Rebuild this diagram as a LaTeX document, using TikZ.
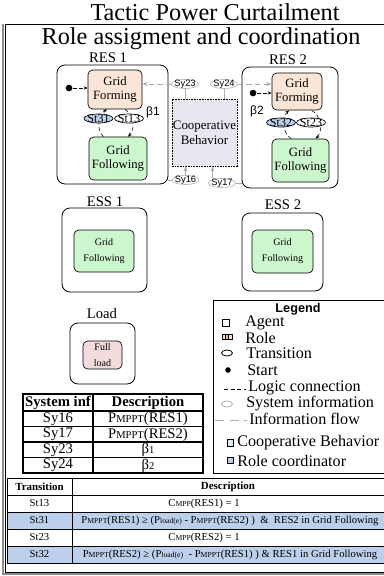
\documentclass[tikz,border=0pt]{standalone}
\usepackage{fontspec}
\usepackage{graphicx}
\setmainfont{Liberation Serif}
\setsansfont{Liberation Sans}
\usetikzlibrary{shapes.geometric,arrows.meta}

\definecolor{formfill}{HTML}{FBE5D6}
\definecolor{followfill}{HTML}{CCF7CC}
\definecolor{loadfill}{HTML}{F2DCDB}
\definecolor{coopfill}{HTML}{E8E6F0}
\definecolor{coordfill}{HTML}{BCD0EC}
\definecolor{coopleg}{HTML}{DDE6F4}
\definecolor{infogray}{HTML}{ABABAB}

\newcommand{\smcap}[1]{\scalebox{0.72}{#1}}

\begin{document}
\begin{tikzpicture}[x=0.75pt,y=0.75pt,
    headline/.style={font=\fontsize{18.2}{18.2}\selectfont,inner sep=0pt},
    agent/.style={draw,rounded corners=6pt,line width=0.6pt},
    lbl/.style={font=\fontsize{11}{11}\selectfont,inner sep=0pt},
    role/.style={draw,rounded corners=3.5pt,line width=0.5pt,align=center,inner sep=0pt,
      font=\fontsize{9.5}{11}\selectfont},
    trans/.style={draw,ellipse,line width=0.5pt,inner sep=0pt,minimum width=21.75pt,minimum height=6.75pt,
      label={[font=\fontsize{9}{9}\selectfont,inner sep=0pt]center:#1}},
    sysinf/.style={draw=infogray,ellipse,fill=white,inner sep=0pt,minimum width=20.25pt,minimum height=6.75pt,
      label={[font=\sffamily\fontsize{7}{7}\selectfont,inner sep=0pt]center:#1}},
    logic/.style={densely dashed,line width=0.4pt,-{Stealth[length=3pt,width=2.5pt]}},
    infoflow/.style={infogray,dash pattern=on 4pt off 2.5pt,line width=0.6pt,-{Stealth[length=4pt,width=3pt]}},
    infoline/.style={infogray,line width=0.6pt},
    startdot/.style={circle,fill,inner sep=0pt,minimum size=5pt},
    beta/.style={font=\sffamily\fontsize{9}{9}\selectfont,inner sep=0pt},
    cell/.style={font=\fontsize{11}{11}\selectfont,inner sep=0pt},
    tcell/.style={font=\fontsize{8}{8}\selectfont,inner sep=0pt},
    legtext/.style={anchor=west,inner sep=0pt,font=\fontsize{12.1}{12.1}\selectfont},
  ]
  \useasboundingbox (0,0) rectangle (384,-576);

  % frame
  \draw[line width=1.8pt,black!45] (3,-24) -- (3,-574) -- (392,-574);
  \draw[line width=0.6pt] (392,-24) -- (5,-24) -- (5,-572) -- (392,-572);
  \node[headline] (tactic) at (215,-12) {Tactic Power Curtailment};
  \node[headline] (rolehead) at (201,-39) {Role assigment and coordination};

  % RES 1
  \node[agent,minimum width=83.25pt,minimum height=89.25pt] (res1) at (112.5,-124.5) {};
  \node[lbl] (res1lbl) at (108,-58) {RES 1};
  \node[role,fill=formfill,minimum width=40.5pt,minimum height=29.25pt] (gfm1) at (115,-89.5) {Grid\\Forming};
  \node[role,fill=followfill,minimum width=43.5pt,minimum height=32.25pt] (gfl1) at (118,-158.5) {Grid\\Following};
  \node[startdot] (start1) at (69,-88) {};
  \draw[logic] (start1) -- (start1 -| gfm1.west);
  \draw[logic] ([xshift=-11pt]gfl1.north) to[bend left=50] ([xshift=-6pt]gfm1.south);
  \draw[logic] ([xshift=7.5pt]gfm1.south) to[bend left=50] ([xshift=7.5pt]gfl1.north);
  \node[trans=St31,fill=coordfill] (st31) at (98.5,-118.5) {};
  \node[trans=St13,fill=white] (st13) at (129,-118.5) {};
  \node[beta] (beta1) at (153,-112) {β1};

  % RES 2
  \node[agent,minimum width=72pt,minimum height=90.75pt] (res2) at (290,-127.5) {};
  \node[lbl] (res2lbl) at (288,-60) {RES 2};
  \node[role,fill=formfill,minimum width=37.5pt,minimum height=27.75pt] (gfm2) at (297,-91.5) {Grid\\Forming};
  \node[role,fill=followfill,minimum width=42.75pt,minimum height=32.25pt] (gfl2) at (300.5,-160.5) {Grid\\Following};
  \node[startdot] (start2) at (253,-93) {};
  \draw[logic] (start2) -- (start2 -| gfm2.west);
  \draw[logic] ([xshift=-7pt]gfl2.north) to[bend left=50] ([xshift=-6pt]gfm2.south);
  \draw[logic] ([xshift=11pt]gfm2.south) to[bend left=50] ([xshift=11.5pt]gfl2.north);
  \node[trans=St32,fill=coordfill] (st32) at (281,-122.5) {};
  \node[trans=St23,fill=white] (st23) at (311,-122.5) {};
  \node[beta] (beta2) at (257,-111) {β2};

  % Cooperative behavior and system information
  \node[draw,dash pattern=on 1.2pt off 0.8pt,line width=0.5pt,fill=coopfill,minimum width=48.75pt,minimum height=50.25pt,
    align=center,inner sep=0pt,font=\fontsize{9.7}{11.25}\selectfont] (coop) at (204.5,-132.5) {Cooperative\\Behavior};
  \node[sysinf=Sy23] (sy23) at (185,-84) {};
  \node[sysinf=Sy24] (sy24) at (224,-84) {};
  \node[sysinf=Sy16] (sy16) at (185.5,-180) {};
  \node[sysinf=Sy17] (sy17) at (222,-183) {};
  \draw[infoflow] (sy23.west) -- (sy23.west -| gfm1.east);
  \draw[infoflow] (sy24.east) -- (sy24.east -| gfm2.west);
  \draw[infoline] (sy23.south) -- (sy23.south |- coop.north);
  \draw[infoline] (sy24.south) -- (sy24.south |- coop.north);
  \draw[infoline,-{Stealth[length=4pt,width=3pt]}] (sy16.north) -- (sy16.north |- coop.south);
  \draw[infoline,-{Stealth[length=4pt,width=3pt]}] ([xshift=-7pt]sy17.north) -- ([xshift=-7pt]sy17.north |- coop.south);
  \draw[infoline] (res1.east |- sy16.west) -- (sy16.west);
  \draw[infoline] (sy17.east) -- (sy17.east -| res2.west);

  % ESS and load
  \node[agent,minimum width=63.75pt,minimum height=63pt] (ess1) at (104.5,-250) {};
  \node[lbl] (ess1lbl) at (105,-202) {ESS 1};
  \node[role,fill=followfill,minimum width=45pt,minimum height=31.5pt,font=\fontsize{7.5}{12}\selectfont] (gfl3) at (104,-251) {Grid\\Following};
  \node[agent,minimum width=60.75pt,minimum height=58.5pt] (ess2) at (282.5,-252) {};
  \node[lbl] (ess2lbl) at (283,-205) {ESS 2};
  \node[role,fill=followfill,minimum width=45.75pt,minimum height=32.25pt,font=\fontsize{7.5}{12}\selectfont] (gfl4) at (282.5,-251.5) {Grid\\Following};
  \node[agent,minimum width=48.75pt,minimum height=45.75pt] (load) at (102.5,-353.5) {};
  \node[lbl] (loadlbl) at (102,-313) {Load};
  \node[role,fill=loadfill,minimum width=29.25pt,minimum height=21pt,font=\fontsize{7.5}{12}\selectfont] (fullload) at (102.5,-355) {Full\\load};

  % system information table
  \draw[line width=0.8pt] (23,-394) rectangle (203,-473);
  \foreach \y in {411,426.5,442,457.5} \draw[line width=0.8pt] (23,-\y) -- (203,-\y);
  \draw[line width=0.8pt] (93,-394) -- (93,-473);
  \node[cell,font=\bfseries\fontsize{11}{11}\selectfont] (infhead) at (58,-402.5) {System inf};
  \node[cell,font=\bfseries\fontsize{11}{11}\selectfont] (infdesc) at (148,-402.5) {Description};
  \foreach \y/\sy/\dsc in {419/Sy16/{P\smcap{MPPT}(RES1)},434.5/Sy17/{P\smcap{MPPT}(RES2)},
      450/Sy23/{β\smcap{1}},465.5/Sy24/{β\smcap{2}}} {
    \node[cell] (inf\sy) at (58,-\y) {\sy};
    \node[cell] (dsc\sy) at (148,-\y) {\dsc};
  }

  % legend
  \draw[line width=0.6pt] (213,-300) rectangle (392,-473);
  \node[font=\sffamily\bfseries\fontsize{9.5}{9.5}\selectfont,inner sep=0pt] (leghead) at (298,-309) {Legend};
  \draw[line width=0.6pt] (222,-319) rectangle (229,-326);
  \foreach \i/\c in {0/followfill,1/red!35,2/loadfill}
    \draw[line width=0.5pt,fill=\c] (222+3.3*\i,-334) rectangle (225.3+3.3*\i,-339.5);
  \draw[line width=0.6pt] (227,-353) ellipse (5.5 and 3);
  \fill (228,-370) circle (2.8);
  \draw[densely dashed,line width=0.4pt] (224,-389) -- (246,-389);
  \draw[infogray,line width=0.6pt] (227,-404) ellipse (5.5 and 3);
  \draw[infogray,line width=0.6pt,dash pattern=on 7pt off 4pt] (215,-420) -- (247,-420);
  \draw[line width=0.5pt,fill=coopleg] (227,-439.5) rectangle (233,-446);
  \draw[line width=0.5pt,fill=coordfill] (227,-457) rectangle (233,-463.5);
  \node[legtext] (legagent) at (245,-323) {Agent};
  \node[legtext] (legrole) at (245,-337.5) {Role};
  \node[legtext] (legtrans) at (246,-353) {Transition};
  \node[legtext] (legstart) at (247,-370) {Start};
  \node[legtext] (leglogic) at (248,-388) {Logic connection};
  \node[legtext] (legsys) at (246,-404) {System information};
  \node[legtext] (legflow) at (249,-419) {Information flow};
  \node[legtext] (legcoop) at (237,-443) {Cooperative Behavior};
  \node[legtext] (legcoord) at (237,-460.5) {Role coordinator};

  % transition table
  \fill[coordfill] (7,-512) rectangle (392,-529);
  \fill[coordfill] (7,-546) rectangle (392,-563);
  \draw[line width=0.6pt] (392,-478) -- (7,-478) -- (7,-563) -- (392,-563);
  \foreach \y in {495,512,529,546} \draw[line width=0.6pt] (7,-\y) -- (392,-\y);
  \draw[line width=0.6pt] (72,-478) -- (72,-563);
  \node[tcell,font=\bfseries\fontsize{8.2}{8.2}\selectfont] (trhead) at (39.5,-486.5) {Transition};
  \node[tcell,font=\bfseries\fontsize{8.2}{8.2}\selectfont] (dshead) at (228,-486.5) {Description};
  \node[tcell] (trSt13) at (39.5,-503.5) {St13};
  \node[tcell] (dsSt13) at (204,-503.5) {C\smcap{MPP}(RES1) = 1};
  \node[tcell] (trSt31) at (39.5,-520.5) {St31};
  \node[tcell] (dsSt31) at (230,-520.5) {P\smcap{MPPT}(RES1) ≥ (P\smcap{load(e)} - P\smcap{MPPT}(RES2) )\ \ \&\ \ RES2 in Grid Following};
  \node[tcell] (trSt23) at (39.5,-537.5) {St23};
  \node[tcell] (dsSt23) at (204,-537.5) {C\smcap{MPP}(RES2) = 1};
  \node[tcell] (trSt32) at (39.5,-554.5) {St32};
  \node[tcell] (dsSt32) at (230,-554.5) {P\smcap{MPPT}(RES2) ≥ (P\smcap{load(e)}\ \ - P\smcap{MPPT}(RES1) ) \& RES1 in Grid Following};
\end{tikzpicture}
\end{document}
